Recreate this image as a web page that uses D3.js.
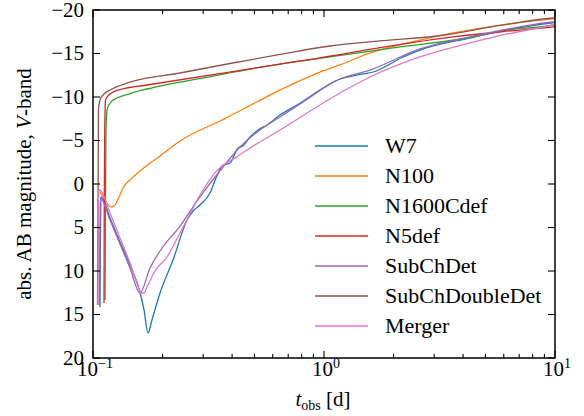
<!DOCTYPE html>
<html><head><meta charset="utf-8">
<script src="https://cdn.jsdelivr.net/npm/d3@7"></script>
<style>
body{margin:0;background:#fff;}
svg{display:block;}
text{font-family:"Liberation Serif","Times New Roman",serif;fill:#000;}
</style></head>
<body>
<svg id="c" width="584" height="416"></svg>
<script>
// ---- data ----
const seriesNames = ["W7","N100","N1600Cdef","N5def","SubChDet","SubChDoubleDet","Merger"];
const colors = ["#1f77b4","#ff7f0e","#2ca02c","#d62728","#9467bd","#8c564b","#e377c2"];

const W7_t = [0.1072,0.10755,0.1080,0.1083,0.1185,0.1309,0.1446,0.1597,0.1663,0.1730,0.1800,0.1950,0.2220,0.2553,0.2710,0.2905,0.3210,0.3408,0.3654,0.3918,0.4244,0.4461,0.4783,0.5179,0.5665,0.6449,0.7638,1.1729,1.431,1.663,1.931,2.198,2.6036,4.2855,5.9552,9.801,10.0];
const W7_m = [14.14,7.59,2.99,1.49,3.91,6.67,9.31,12.41,14.48,17.13,15.63,12.53,8.74,4.14,3.10,2.41,1.03,-0.69,-2.18,-2.41,-4.14,-4.37,-5.40,-6.21,-6.78,-7.93,-9.08,-12.07,-12.59,-12.93,-13.79,-14.60,-15.40,-16.78,-17.59,-18.51,-18.53];

const N100_t = [0.1072,0.1127,0.1197,0.1245,0.1296,0.1348,0.1446,0.1597,0.1950,0.2380,0.3545,0.3918,0.6449,0.9609,1.1729,1.5817,2.6036,3.6174,5.9552,9.801,10.0];
const N100_m = [0.92,1.84,2.64,2.41,1.49,0.46,-0.46,-1.49,-3.22,-4.94,-7.24,-7.82,-10.80,-12.87,-13.68,-15.06,-16.55,-17.36,-18.28,-18.97,-18.99];

const N1600_t = [0.1127,0.1133,0.1138,0.1150,0.1185,0.1271,0.1446,0.1713,0.3308,0.6449,1.0617,2.133,4.2855,5.9552,9.801,10.0];
const N1600_m = [13.33,1.84,-6.21,-8.51,-9.31,-9.89,-10.40,-10.92,-12.41,-13.79,-14.60,-15.75,-16.84,-17.64,-18.28,-18.33];

const N5_t = [0.1116,0.1119,0.1124,0.1133,0.1173,0.1221,0.1376,0.1713,0.7873,3.6174,5.9552,9.801,10.0];
const N5_m = [13.68,1.84,-6.21,-9.66,-10.23,-10.57,-10.98,-11.38,-14.14,-16.90,-17.53,-18.05,-18.08];

const SubCh_t = [0.1067,0.1070,0.1074,0.1078,0.1185,0.1309,0.1446,0.1597,0.1765,0.1950,0.2380,0.2905,0.3654,0.4330,0.5284,0.6449,0.7873,1.1729,1.5817,2.6036,4.2855,5.9552,9.801,10.0];
const SubCh_m = [13.91,7.59,2.99,1.61,4.14,6.90,9.66,12.53,9.66,7.70,4.83,1.49,-1.95,-4.25,-6.21,-7.70,-9.20,-12.07,-13.10,-15.52,-16.90,-17.70,-18.62,-18.64];

const SubChDD_t = [0.1046,0.1056,0.1072,0.1116,0.1185,0.1309,0.1446,0.2380,0.3918,0.6449,1.0617,1.748,3.0846,5.9552,9.801,10.0];
const SubChDD_m = [13.91,-8.51,-9.66,-10.34,-10.80,-11.32,-11.72,-12.76,-13.85,-14.89,-15.86,-16.44,-17.01,-18.28,-19.08,-19.10];

const Merger_t = [0.1051,0.10532,0.1056,0.1062,0.1083,0.1185,0.1309,0.1446,0.1566,0.1614,0.1663,0.1713,0.1855,0.2091,0.2380,0.2630,0.2905,0.3053,0.3308,0.3618,0.4119,0.4642,0.6449,1.1729,1.5817,2.6036,4.2855,5.9552,9.801,10.0];
const Merger_m = [13.91,7.59,1.84,0.69,0.80,3.33,6.21,9.08,11.72,12.53,12.53,11.84,10.0,8.39,5.63,3.45,1.26,0.34,-1.03,-2.07,-2.99,-3.91,-6.21,-10.46,-12.30,-14.60,-16.21,-17.13,-18.28,-18.33];

const seriesT = [W7_t,N100_t,N1600_t,N5_t,SubCh_t,SubChDD_t,Merger_t];
const seriesM = [W7_m,N100_m,N1600_m,N5_m,SubCh_m,SubChDD_m,Merger_m];

const yTicks = [-20,-15,-10,-5,0,5,10,15,20];
const xMajor = [0.1,1,10];
const xMajorExp = ["−1","0","1"];

// ---- layout ----
const FONT = "Liberation Serif, Times New Roman, serif";
const FS = 21;
const svg = d3.select("#c");
const L=93, R=555, T=10, B=358;
const x = d3.scaleLog().domain([0.1,10]).range([L,R]);
const y = d3.scaleLinear().domain([-20,20]).range([T,B]);

svg.append("clipPath").attr("id","clip").append("rect")
  .attr("x",L).attr("y",T).attr("width",R-L).attr("height",B-T);

const line = d3.line().x(d=>x(d[0])).y(d=>y(d[1])).curve(d3.curveMonotoneX);
const g = svg.append("g").attr("clip-path","url(#clip)");
seriesNames.forEach((n,i)=>{
  const pts = seriesT[i].map((t,j)=>[t,seriesM[i][j]]);
  g.append("path").attr("d",line(pts)).attr("fill","none")
   .attr("stroke",colors[i]).attr("stroke-width",1.3).attr("stroke-linejoin","round");
});

// minor x ticks
const minor = [];
[0.1,1].forEach(d=>{for(let k=2;k<=9;k++) minor.push(d*k);});

// axes (ticks inward)
const axG = svg.append("g");
const tk = (x1,y1,x2,y2)=>axG.append("line").attr("x1",x1).attr("y1",y1).attr("x2",x2).attr("y2",y2)
   .attr("stroke","#000").attr("stroke-width",1.1);
xMajor.forEach(v=>{ tk(x(v),B,x(v),B-7); tk(x(v),T,x(v),T+7); });
minor.forEach(v=>{ tk(x(v),B,x(v),B-4); tk(x(v),T,x(v),T+4); });
yTicks.forEach(v=>{ tk(L,y(v),L+7,y(v)); tk(R,y(v),R-7,y(v)); });

axG.append("rect").attr("x",L).attr("y",T).attr("width",R-L).attr("height",B-T)
  .attr("fill","none").attr("stroke","#000").attr("stroke-width",1.5);

const txt = (sel,fs)=>sel.append("text").attr("font-family",FONT).attr("font-size",fs||FS);

// y tick labels
yTicks.forEach(v=>{
  txt(svg).attr("x",L-9).attr("y",y(v)+6.5).attr("text-anchor","end")
    .text(v<0?"−"+Math.abs(v):String(v));
});
// x tick labels
xMajor.forEach((v,i)=>{
  const t = txt(svg).attr("x",x(v)+2).attr("y",B+18).attr("text-anchor","middle");
  t.append("tspan").text("10");
  t.append("tspan").attr("dy",-8).attr("font-size",14).text(xMajorExp[i]);
});
// x label
const xl = txt(svg).attr("x",323).attr("y",406).attr("text-anchor","middle");
xl.append("tspan").attr("font-style","italic").text("t");
xl.append("tspan").attr("dy",4).attr("font-size",14).text("obs");
xl.append("tspan").attr("dy",-4).text(" [d]");
// y label
const yl = txt(svg).attr("transform","translate(31,184) rotate(-90)")
  .attr("text-anchor","middle");
yl.append("tspan").text("abs. AB magnitude, ");
yl.append("tspan").attr("font-style","italic").text("V");
yl.append("tspan").text("-band");

// legend
seriesNames.forEach((n,i)=>{
  const yy = 146 + i*30;
  svg.append("line").attr("x1",315).attr("x2",368).attr("y1",yy).attr("y2",yy)
    .attr("stroke",colors[i]).attr("stroke-width",1.3);
  txt(svg,22).attr("x",385).attr("y",yy+7).text(n);
});
</script>
</body></html>
